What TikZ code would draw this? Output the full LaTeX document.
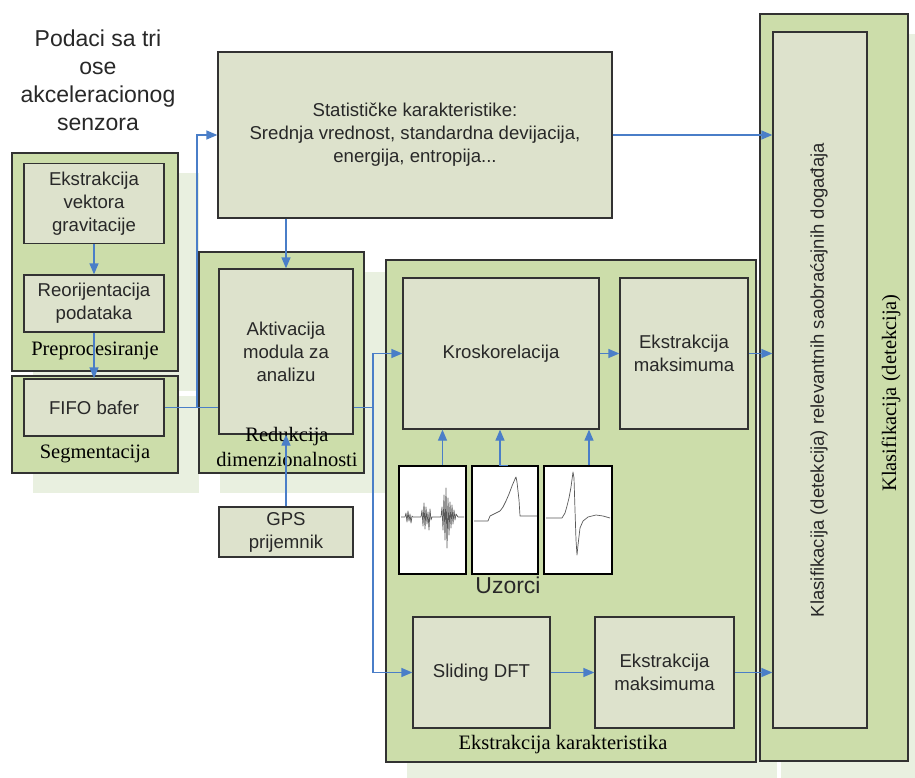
\documentclass[tikz,border=0pt]{standalone}
\usepackage{fontspec}
\setmainfont{Liberation Serif}
\setsansfont{Liberation Sans}
\usepackage{tikz}
\usetikzlibrary{arrows.meta,shadows}

\definecolor{groupgreen}{RGB}{204,221,170}
\definecolor{blockgreen}{RGB}{221,226,204}
\definecolor{shadegreen}{RGB}{233,240,224}
\definecolor{edgegray}{RGB}{50,50,50}
\definecolor{inkgray}{RGB}{40,40,40}
\definecolor{flowblue}{RGB}{74,126,200}

\begin{document}
\begin{tikzpicture}[x=1pt,y=-1pt,text=inkgray,
  group node/.style={rectangle,draw=edgegray,line width=1.3pt,fill=groupgreen,inner sep=0pt,
    general shadow={fill=shadegreen,shadow xshift=21pt,shadow yshift=-20pt}},
  block node/.style={rectangle,draw=edgegray,line width=1.3pt,fill=blockgreen,inner sep=0pt,
    align=center,font=\sffamily\fontsize{18.6}{23}\selectfont},
  group label/.style={inner sep=0pt,align=center,text=black,font=\rmfamily\fontsize{20.5}{25}\selectfont},
  sample node/.style={rectangle,draw=black,line width=1.3pt,fill=white,minimum height=108pt},
  wave/.style={draw=black!65,line width=0.7pt,line join=round},
  flow/.style={draw=flowblue,line width=1.3pt,-{Triangle[length=11pt,width=9pt]}},
  link/.style={draw=flowblue,line width=1.3pt}]

  \useasboundingbox[fill=white] (0,0) rectangle (915,778);

  \node[align=center,font=\sffamily\fontsize{23}{28}\selectfont] (source) at (98,80)
    {Podaci sa tri\\ose\\akceleracionog\\senzora};

  % groups, back to front
  \node[group node,minimum width=166pt,minimum height=218pt] (pre) at (95,262) {};
  \node[group node,minimum width=166pt,minimum height=97pt] (seg) at (95,424.5) {};
  \node[group node,minimum width=165pt,minimum height=221pt] (red) at (281.5,362.5) {};
  \node[group node,minimum width=370pt,minimum height=502pt] (feat) at (571,511) {};
  \node[group node,minimum width=148pt,minimum height=747pt] (klas) at (834,387.5) {};

  % blocks
  \node[block node,minimum width=140pt,minimum height=80pt] (grav) at (94,203.5)
    {Ekstrakcija\\vektora\\gravitacije};
  \node[block node,minimum width=140pt,minimum height=57pt] (reor) at (94,303.5)
    {Reorijentacija\\podataka};
  \node[block node,minimum width=140pt,minimum height=57pt] (fifo) at (94,407.5) {FIFO bafer};
  \node[block node,minimum width=394pt,minimum height=166pt] (stats) at (415,135)
    {Statističke karakteristike:\\Srednja vrednost, standardna devijacija,\\energija, entropija...};
  \node[block node,minimum width=134pt,minimum height=165pt] (akt) at (286,351.5)
    {Aktivacija\\modula za\\analizu};
  \node[block node,minimum width=134pt,minimum height=50pt] (gps) at (286,532) {GPS\\prijemnik};
  \node[block node,minimum width=196pt,minimum height=151pt] (kros) at (501,353.5) {Kroskorelacija};
  \node[block node,minimum width=128pt,minimum height=151pt] (emax1) at (684,353.5)
    {Ekstrakcija\\maksimuma};
  \node[block node,minimum width=137pt,minimum height=111pt] (sdft) at (481.5,672.5) {Sliding DFT};
  \node[block node,minimum width=139pt,minimum height=111pt] (emax2) at (664.5,672.5)
    {Ekstrakcija\\maksimuma};
  \node[block node,minimum width=94pt,minimum height=696pt] (det) at (820,380) {};
  \node[rotate=90,inner sep=0pt,font=\sffamily\fontsize{18.5}{22}\selectfont] (dettext) at (819,380)
    {Klasifikacija (detekcija) relevantnih saobraćajnih događaja};

  % samples
  \node[sample node,minimum width=67pt] (uz1) at (432.5,520) {};
  \node[sample node,minimum width=66pt] (uz2) at (505,520) {};
  \node[sample node,minimum width=68pt] (uz3) at (578,520) {};
  \node[font=\sffamily\fontsize{23}{28}\selectfont] (uzorci) at (508,585) {Uzorci};

  \draw[wave] plot coordinates {(401,517) (405,517) (406,513) (407,522) (408,511) (409,521)
    (410,514) (411,523) (412,516) (413,517) (421,517) (422,510) (423,526) (424,503) (425,529)
    (426,507) (427,524) (428,512) (429,530) (430,509) (431,520) (432,517) (441,517) (442,507)
    (443,530) (444,495) (445,540) (446,488) (447,548) (448,498) (449,535) (450,502) (451,528)
    (452,505) (453,524) (454,510) (455,520) (456,514) (458,517) (464,517)};
  \draw[wave] plot coordinates {(474,521) (488,521) (490,516) (496,513) (500,511) (503,507)
    (506,501) (509,494) (512,486) (515,479) (516,477) (517,482) (519,500) (520,516) (537,516)};
  \draw[wave] plot coordinates {(546,518) (562,518) (565,513) (567,506) (569,498) (571,487)
    (573,472) (574,478) (575,510) (576,540) (577,555) (578,545) (580,528) (583,521) (588,517)
    (596,515) (603,516) (610,518)};

  % group labels
  \node[group label] (prelab) at (95,351) {Preprocesiranje};
  \node[group label] (seglab) at (95,454) {Segmentacija};
  \node[group label] (redlab) at (287,447) {Redukcija\\dimenzionalnosti};
  \node[group label] (featlab) at (563,745) {Ekstrakcija karakteristika};
  \node[group label,rotate=90] (klaslab) at (891,393) {Klasifikacija (detekcija)};

  % connectors
  \coordinate (tap) at (197,407.5);
  \coordinate (fork) at (373,407.5);

  \draw[flow] (grav) -- (reor);
  \draw[flow] (reor) -- (fifo);
  \draw[link] (fifo.east) -- (fifo.east -| akt.west);
  \draw[flow] (tap) |- (stats.west);
  \draw[flow] (stats.south -| akt.north) -- (akt.north);
  \draw[flow] (gps) -- (akt.south);
  \draw[link] (fifo.east -| akt.east) -- (fork);
  \draw[flow] (fork) |- (kros.west);
  \draw[flow] (fork) |- (sdft.west);
  \draw[flow] (kros) -- (emax1);
  \draw[flow] (sdft) -- (emax2);
  \draw[flow] (stats.east) -- (stats.east -| det.west);
  \draw[flow] (emax1.east) -- (emax1.east -| det.west);
  \draw[flow] (emax2.east) -- (emax2.east -| det.west);
  \draw[flow] ([xshift=10pt]uz1.north) -- ([xshift=10pt]uz1.north |- kros.south);
  \draw[flow] ([xshift=3pt]uz2.north) -- ++(-8,0) coordinate (jog) -- (jog |- kros.south);
  \draw[flow] ([xshift=11pt]uz3.north) -- ([xshift=11pt]uz3.north |- kros.south);

\end{tikzpicture}
\end{document}
